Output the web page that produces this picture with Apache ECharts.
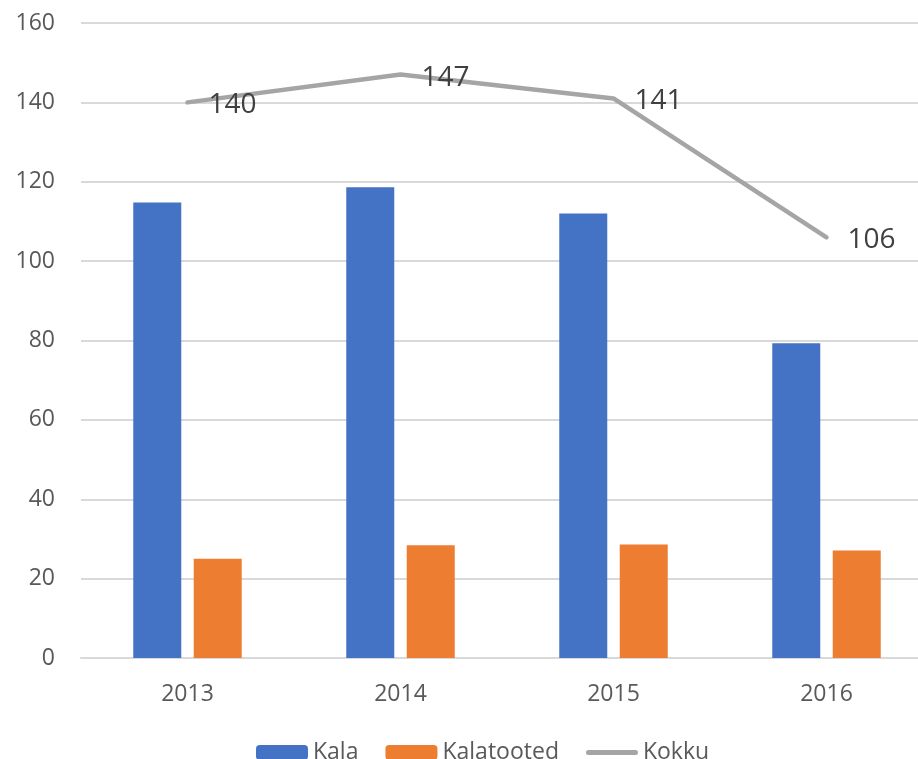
<!DOCTYPE html>
<html>
<head>
<meta charset="utf-8">
<script src="https://cdn.jsdelivr.net/npm/echarts@6/dist/echarts.min.js"></script>
<style>
html,body{margin:0;padding:0;background:#fff;overflow:hidden;}
#c{width:933px;height:759px;}
</style>
</head>
<body>
<div id="c"></div>
<script>
var categories = ['2013', '2014', '2015', '2016'];
var kala = [114.8, 118.6, 112.0, 79.3];
var kalatooted = [25.0, 28.4, 28.6, 27.1];
var kokku = [140, 147, 141, 106];
var yTicks = {min: 0, max: 160, interval: 20};

var FONT = 'Open Sans';
var chart = echarts.init(document.getElementById('c'));
chart.setOption({
  animation: false,
  textStyle: {fontFamily: FONT},
  grid: {left: 81, top: 23, right: 0, bottom: 101, containLabel: false},
  legend: {
    top: 736,
    left: 251,
    itemWidth: 52,
    itemHeight: 15,
    itemGap: 27,
    textStyle: {fontFamily: FONT, fontSize: 23, color: '#595959'},
    data: [
      {name: 'Kala'},
      {name: 'Kalatooted'},
      {name: 'Kokku', icon: 'path://M2.5,0H49.5A2.5,2.5,0,0,1,49.5,5H2.5A2.5,2.5,0,0,1,2.5,0Z', itemStyle: {color: '#a5a5a5'}}
    ]
  },
  xAxis: {
    type: 'category',
    data: categories,
    axisLine: {show: true, lineStyle: {color: '#d9d9d9', width: 2}},
    axisTick: {show: false},
    axisLabel: {fontFamily: FONT, fontSize: 23, color: '#595959', margin: 25}
  },
  yAxis: {
    type: 'value',
    min: yTicks.min, max: yTicks.max, interval: yTicks.interval,
    axisLine: {show: false},
    axisTick: {show: false},
    splitLine: {lineStyle: {color: '#d9d9d9', width: 2}},
    axisLabel: {fontFamily: FONT, fontSize: 23, color: '#595959', margin: 26}
  },
  series: [
    {
      name: 'Kala', type: 'bar', data: kala,
      barWidth: 48, barGap: '26%',
      itemStyle: {color: '#4472c4'}
    },
    {
      name: 'Kalatooted', type: 'bar', data: kalatooted,
      barWidth: 48,
      itemStyle: {color: '#ed7d31'}
    },
    {
      name: 'Kokku', type: 'line', data: kokku,
      symbol: 'circle', symbolSize: 0,
      lineStyle: {color: '#a5a5a5', width: 4.5, cap: 'round', join: 'round'},
      itemStyle: {color: '#a5a5a5'},
      label: {show: true, position: 'right', distance: 21, offset: [0, 3], fontFamily: FONT, fontSize: 28, color: '#404040'},
      z: 5
    }
  ]
});
</script>
</body>
</html>
